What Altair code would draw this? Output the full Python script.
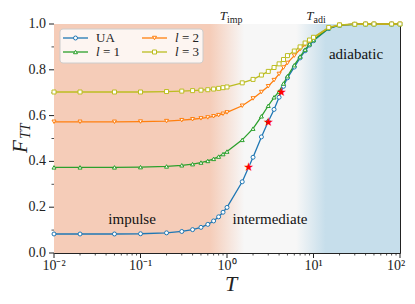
import altair as alt
import pandas as pd

# ---------------- data ----------------
T = [0.01, 0.02, 0.05, 0.1, 0.2, 0.3, 0.4, 0.5, 0.6, 0.7, 0.8, 0.9, 1.0,
     1.5, 2.0, 2.5, 3.0, 3.5, 4.0, 4.5, 5.0, 6.0, 7.0, 8.0, 9.0, 10.0,
     15.0, 20.0, 30.0, 40.0, 50.0, 80.0, 100.0]

F_UA = [0.083, 0.083, 0.083, 0.084, 0.088, 0.094, 0.102, 0.112, 0.125, 0.140, 0.158, 0.178, 0.199,
        0.311, 0.418, 0.507, 0.574, 0.627, 0.680, 0.728, 0.765, 0.812, 0.852, 0.883, 0.908, 0.927,
        0.980, 0.995, 0.999, 1.0, 1.0, 1.0, 1.0]
F_L1 = [0.374, 0.374, 0.374, 0.375, 0.378, 0.383, 0.388, 0.395, 0.402, 0.411, 0.421, 0.432, 0.443,
        0.494, 0.543, 0.597, 0.643, 0.680, 0.705, 0.740, 0.772, 0.820, 0.858, 0.888, 0.912, 0.930,
        0.982, 0.995, 0.999, 1.0, 1.0, 1.0, 1.0]
F_L2 = [0.573, 0.573, 0.573, 0.574, 0.576, 0.580, 0.584, 0.588, 0.592, 0.597, 0.602, 0.608, 0.614,
        0.643, 0.675, 0.703, 0.728, 0.755, 0.782, 0.810, 0.830, 0.862, 0.890, 0.910, 0.927, 0.940,
        0.984, 0.996, 0.999, 1.0, 1.0, 1.0, 1.0]
F_L3 = [0.703, 0.703, 0.703, 0.703, 0.705, 0.707, 0.709, 0.711, 0.713, 0.716, 0.719, 0.722, 0.725,
        0.743, 0.758, 0.777, 0.793, 0.810, 0.826, 0.845, 0.862, 0.882, 0.900, 0.917, 0.930, 0.942,
        0.985, 0.996, 0.999, 1.0, 1.0, 1.0, 1.0]

star_T = [1.78, 3.0, 4.25]
star_F = [0.374, 0.574, 0.703]

series_names = ["UA", "l = 1", "l = 2", "l = 3"]
series_colors = ["#1f77b4", "#2ca02c", "#ff7f0e", "#bcbd22"]
series_shapes = ["circle", "triangle-up", "triangle-down", "square"]

region_labels = ["impulse", "intermediate", "adiabatic"]
region_T = [0.08, 3.14, 31.0]
region_F = [0.148, 0.148, 0.869]

crit_T = [1.0, 10.0]
crit_sub = ["imp", "adi"]

x_decades = [0.01, 0.1, 1.0, 10.0, 100.0]
x_labels = ["10⁻²", "10⁻¹", "10⁰", "10¹", "10²"]
x_minor_mult = [2, 3, 4, 5, 6, 7, 8, 9]
y_major = [0.0, 0.2, 0.4, 0.6, 0.8, 1.0]
y_labels = ["0.0", "0.2", "0.4", "0.6", "0.8", "1.0"]
y_minor = [0.1, 0.3, 0.5, 0.7, 0.9]

# ---------------- styling ----------------
FONT = "Liberation Serif"
INK = "#222222"
SALMON = "#f5ccb8"
MID = "#f7f7f7"
BLUE = "#c6deeb"
W, H = 346, 229

# ---------------- tables ----------------
df = pd.DataFrame({
    "T": T * 4,
    "F": F_UA + F_L1 + F_L2 + F_L3,
    "series": sum([[n] * len(T) for n in series_names], []),
})
star_df = pd.DataFrame({"T": star_T, "F": star_F})
region_df = pd.DataFrame({"T": region_T, "F": region_F, "label": region_labels})
crit_df = pd.DataFrame({"T": crit_T, "sub": crit_sub})
xmajor_df = pd.DataFrame({"T": x_decades, "label": x_labels})
xlab_inner_df = xmajor_df.iloc[:-1]
xlab_last_df = xmajor_df.iloc[-1:]
xminor_df = pd.DataFrame({"T": [m * d for d in x_decades[:-1] for m in x_minor_mult]})
ymajor_df = pd.DataFrame({"F": y_major, "label": y_labels})
yminor_df = pd.DataFrame({"F": y_minor})
one = pd.DataFrame({"a": [0]})

xscale = alt.Scale(type="log", domain=[0.01, 100], nice=False)
yscale = alt.Scale(domain=[0, 1], nice=False)
X = alt.X("T:Q", scale=xscale, axis=None)
Y = alt.Y("F:Q", scale=yscale, axis=None)
cscale = alt.Scale(domain=series_names, range=series_colors)
sscale = alt.Scale(domain=series_names, range=series_shapes)

gradient = alt.LinearGradient(
    gradient="linear", x1=0, x2=1, y1=0, y2=0,
    stops=[
        alt.GradientStop(color=SALMON, offset=0),
        alt.GradientStop(color=SALMON, offset=0.45),
        alt.GradientStop(color=MID, offset=0.55),
        alt.GradientStop(color=MID, offset=0.70),
        alt.GradientStop(color=BLUE, offset=0.785),
        alt.GradientStop(color=BLUE, offset=1),
    ],
)

layers = []

# background regimes
layers.append(alt.Chart(one).mark_rect(fill=gradient).encode(
    x=alt.value(0), x2=alt.value("width"), y=alt.value(0), y2=alt.value("height")
))

# axis ticks and labels
layers.append(alt.Chart(xmajor_df).mark_rule(color=INK, strokeWidth=1).encode(
    x=X, y=alt.value(H), y2=alt.value(H + 5)))
layers.append(alt.Chart(xminor_df).mark_rule(color=INK, strokeWidth=0.8).encode(
    x=X, y=alt.value(H), y2=alt.value(H + 2.5)))
layers.append(alt.Chart(xlab_inner_df).mark_text(
    font=FONT, fontSize=14, color=INK, align="center", baseline="alphabetic"
).encode(x=X, y=alt.value(H + 17), text="label:N"))
layers.append(alt.Chart(xlab_last_df).mark_text(
    font=FONT, fontSize=14, color=INK, align="center", baseline="alphabetic", dx=-4
).encode(x=X, y=alt.value(H + 17), text="label:N"))
layers.append(alt.Chart(ymajor_df).mark_rule(color=INK, strokeWidth=1).encode(
    y=Y, x=alt.value(0), x2=alt.value(-5)))
layers.append(alt.Chart(yminor_df).mark_rule(color=INK, strokeWidth=0.8).encode(
    y=Y, x=alt.value(0), x2=alt.value(-2.5)))
layers.append(alt.Chart(ymajor_df).mark_text(
    font=FONT, fontSize=14, color=INK, align="right", baseline="middle"
).encode(y=Y, x=alt.value(-8), text="label:N"))

# axis titles
layers.append(alt.Chart(one).mark_text(
    text="T", font=FONT, fontStyle="italic", fontSize=22, color=INK, align="center", baseline="alphabetic"
).encode(x=alt.value(177), y=alt.value(H + 38)))
layers.append(alt.Chart(one).mark_text(
    text="F", font=FONT, fontStyle="italic", fontSize=21, color=INK, angle=270, align="left",
    baseline="alphabetic"
).encode(x=alt.value(-27), y=alt.value(129)))
layers.append(alt.Chart(one).mark_text(
    text="TT", font=FONT, fontStyle="italic", fontSize=14, color=INK, angle=270, align="left",
    baseline="alphabetic"
).encode(x=alt.value(-24), y=alt.value(115)))

# data
layers.append(alt.Chart(df).mark_line(strokeWidth=1.3).encode(
    x=X, y=Y, color=alt.Color("series:N", scale=cscale, legend=None)))
layers.append(alt.Chart(df).mark_point(filled=False, fill="white", size=16, strokeWidth=1, opacity=1).encode(
    x=X, y=Y,
    color=alt.Color("series:N", scale=cscale, legend=None),
    shape=alt.Shape("series:N", scale=sscale, legend=None),
))
layers.append(alt.Chart(star_df).mark_text(
    text="★", font="DejaVu Sans", fontSize=12, color="red", align="center", baseline="middle"
).encode(x=X, y=Y))

# annotations
layers.append(alt.Chart(region_df).mark_text(font=FONT, fontSize=15, color="#111", baseline="middle").encode(
    x=X, y=Y, text="label:N"))
layers.append(alt.Chart(crit_df).mark_text(
    text="T", font=FONT, fontStyle="italic", fontSize=13, color=INK, align="right", baseline="alphabetic"
).encode(x=X, y=alt.value(-4)))
layers.append(alt.Chart(crit_df).mark_text(
    font=FONT, fontSize=10, color=INK, align="left", baseline="alphabetic"
).encode(x=X, y=alt.value(-1.5), text="sub:N"))

# legend (upper left, two columns filled column-wise)
layers.append(alt.Chart(one).mark_rect(
    fill="white", fillOpacity=0.8, stroke="#cccccc", strokeWidth=1, cornerRadius=3
).encode(x=alt.value(6), x2=alt.value(149), y=alt.value(5), y2=alt.value(39)))
slots = [(9, 14), (9, 28), (88, 14), (88, 28)]
for name, color, (lx, ly) in zip(series_names, series_colors, slots):
    layers.append(alt.Chart(one).mark_rule(color=color, strokeWidth=1.3).encode(
        x=alt.value(lx), x2=alt.value(lx + 25), y=alt.value(ly)))
    layers.append(alt.Chart(pd.DataFrame({"series": [name]})).mark_point(
        filled=False, fill="white", size=16, strokeWidth=1, opacity=1
    ).encode(
        x=alt.value(lx + 12.5), y=alt.value(ly),
        color=alt.Color("series:N", scale=cscale, legend=None),
        shape=alt.Shape("series:N", scale=sscale, legend=None),
    ))
    if name.startswith("l"):
        layers.append(alt.Chart(one).mark_text(
            text="l", font=FONT, fontStyle="italic", fontSize=13, color=INK, align="left", baseline="middle"
        ).encode(x=alt.value(lx + 33), y=alt.value(ly)))
        layers.append(alt.Chart(one).mark_text(
            text=name[1:].strip(), font=FONT, fontSize=13, color=INK, align="left", baseline="middle"
        ).encode(x=alt.value(lx + 40), y=alt.value(ly)))
    else:
        layers.append(alt.Chart(one).mark_text(
            text=name, font=FONT, fontSize=13, color=INK, align="left", baseline="middle"
        ).encode(x=alt.value(lx + 33), y=alt.value(ly)))

chart = alt.layer(*layers).properties(
    width=W, height=H,
    autosize=alt.AutoSizeParams(type="none"),
    padding={"left": 46, "top": 16, "right": 7, "bottom": 43},
).configure_view(stroke=INK, strokeWidth=1)

chart.save("out.html", embed_options={"renderer": "svg", "actions": False})
